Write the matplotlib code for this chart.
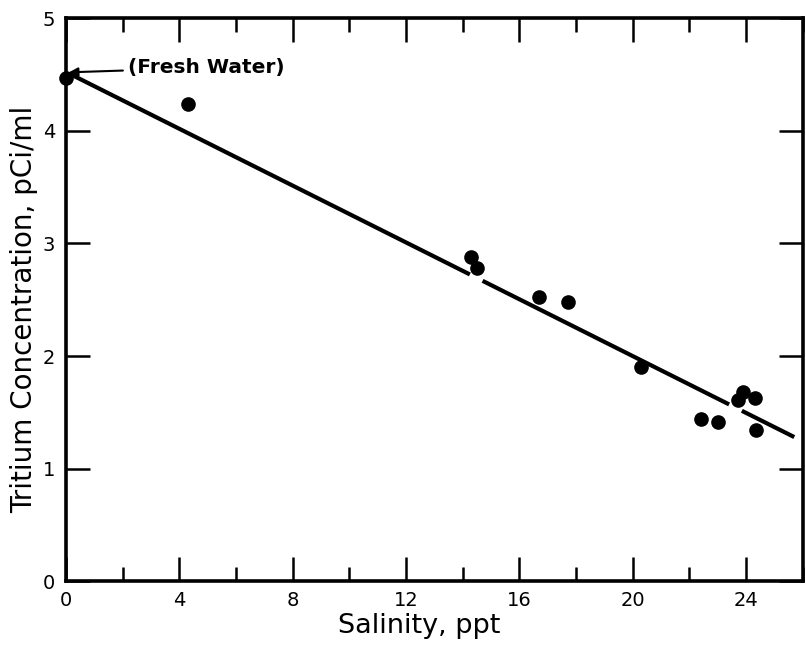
import numpy as np
import matplotlib.pyplot as plt
from matplotlib.ticker import MultipleLocator

salinity = [0.0, 4.3, 14.3, 14.5, 16.7, 17.7, 20.3, 22.4, 23.0, 23.7, 23.9, 24.3, 24.35]
tritium = [4.47, 4.24, 2.88, 2.78, 2.52, 2.48, 1.90, 1.44, 1.41, 1.61, 1.68, 1.63, 1.34]

# regression line, drawn in pieces (gaps as in the original drawing)
fit_x0, fit_x1 = 0.1, 25.7
fit_y0, fit_y1 = 4.51, 1.28
gaps = [(14.25, 14.7), (23.4, 23.85)]

plt.rcParams['font.family'] = ['DejaVu Sans']

fig = plt.figure(figsize=(8.06, 6.53), dpi=100)
ax = fig.add_axes([0.082, 0.110, 0.914, 0.862])

slope = (fit_y1 - fit_y0) / (fit_x1 - fit_x0)
edges = [fit_x0]
for a, b in gaps:
    edges += [a, b]
edges.append(fit_x1)
for i in range(0, len(edges), 2):
    xs = np.array([edges[i], edges[i + 1]])
    ax.plot(xs, fit_y0 + slope * (xs - fit_x0), color='black', lw=3.0,
            solid_capstyle='butt', zorder=2)

ax.plot(salinity, tritium, 'o', color='black', ms=9.5, zorder=3, clip_on=False)

ax.annotate('(Fresh Water)', xy=(0.1, 4.52), xytext=(2.2, 4.56),
            fontsize=14.5, fontweight='bold', va='center', ha='left',
            arrowprops=dict(arrowstyle='-|>', color='black', lw=1.5,
                            mutation_scale=13, shrinkA=2, shrinkB=0))

ax.set_xlim(0, 26)
ax.set_ylim(0, 5)
ax.xaxis.set_major_locator(MultipleLocator(4))
ax.xaxis.set_minor_locator(MultipleLocator(2))
ax.yaxis.set_major_locator(MultipleLocator(1))

ax.tick_params(which='both', direction='in', top=True, right=True,
               width=1.8, labelsize=14, color='black')
ax.tick_params(which='major', length=17)
ax.tick_params(which='minor', length=10)
ax.tick_params(axis='x', pad=7)
ax.tick_params(axis='y', pad=8)
for s in ax.spines.values():
    s.set_linewidth(2.6)

ax.set_xlabel('Salinity, ppt', fontsize=19.5, labelpad=2)
ax.set_ylabel('Tritium Concentration, pCi/ml', fontsize=20, labelpad=3)
ax.xaxis.label.set_x(0.479)
ax.yaxis.label.set_y(0.482)

fig.savefig('out.png', dpi=100)
